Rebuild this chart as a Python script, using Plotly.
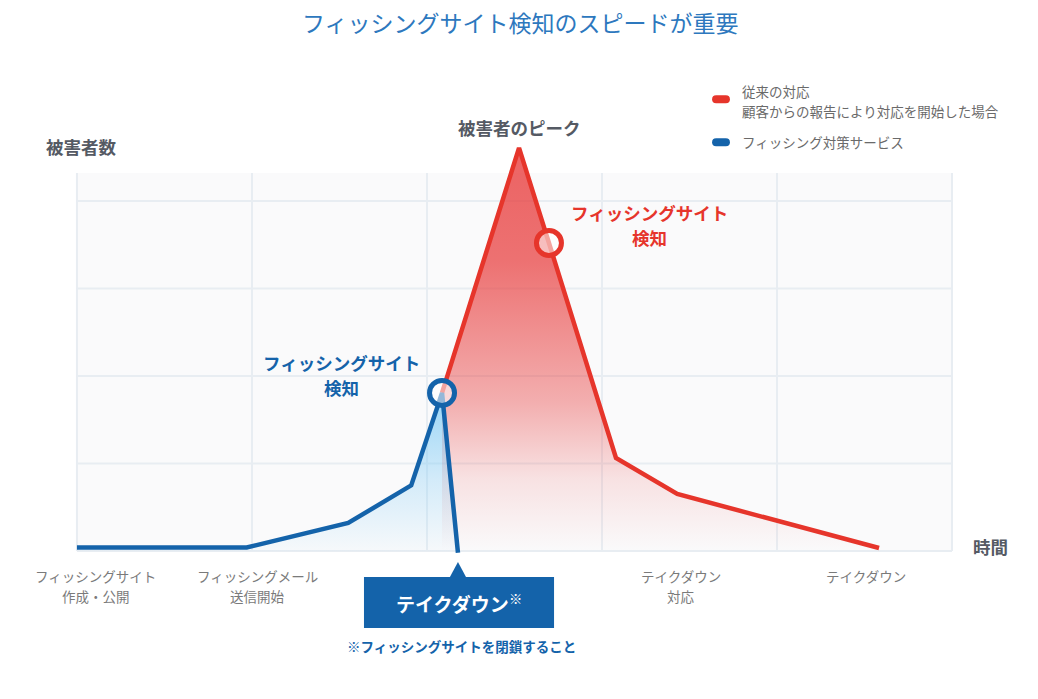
import plotly.graph_objects as go

# time axis: one unit per grid column, value axis: one unit per grid row
blue_x = [0, 0.97, 1.55, 1.91, 2.086, 2.177]
blue_y = [0.04, 0.04, 0.32, 0.75, 1.806, -0.02]

red_x = [2.086, 2.526, 2.697, 3.08, 3.43, 4.583]
red_y = [1.806, 4.606, 3.52, 1.063, 0.651, 0.034]

detect_blue = (2.086, 1.806)
detect_red = (2.697, 3.52)

tick_x = [0.106, 1.034, 3.451, 4.511]
tick_labels = [
    ["フィッシングサイト", "作成・公開"],
    ["フィッシングメール", "送信開始"],
    ["テイクダウン", "対応"],
    ["テイクダウン"],
]

grid_x = [0, 1, 2, 3, 4, 5]
grid_y = [0, 1, 2, 3, 4]
grid_top = 4.32

RED = "#e6352b"
BLUE = "#1463aa"
FONT = "Noto Sans CJK JP"

fig = go.Figure()

fig.add_trace(go.Scatter(
    x=red_x, y=red_y, mode="lines", fill="tozeroy",
    line=dict(color=RED, width=4.5),
    fillgradient=dict(
        type="vertical", start=0, stop=4.606,
        colorscale=[[0, "rgba(232,60,60,0)"], [0.18, "rgba(232,60,60,0.13)"],
                    [0.37, "rgba(232,60,60,0.4)"], [0.72, "rgba(232,60,60,0.72)"],
                    [1, "rgba(232,60,60,0.8)"]]),
    hoverinfo="skip", showlegend=False,
))

fig.add_trace(go.Scatter(
    x=blue_x, y=blue_y, mode="lines", fill="tozeroy",
    line=dict(color=BLUE, width=4.5),
    fillgradient=dict(
        type="vertical", start=0, stop=1.806,
        colorscale=[[0, "rgba(120,200,245,0.03)"], [0.45, "rgba(120,200,245,0.3)"],
                    [1, "rgba(120,200,245,0.75)"]]),
    hoverinfo="skip", showlegend=False,
))

fig.add_trace(go.Scatter(
    x=[detect_blue[0], detect_red[0]], y=[detect_blue[1], detect_red[1]],
    mode="markers",
    marker=dict(size=25, color="rgba(255,255,255,0.55)",
                line=dict(color=[BLUE, RED], width=5)),
    hoverinfo="skip", showlegend=False,
))

shapes = [dict(type="rect", x0=grid_x[0], x1=grid_x[-1], y0=0, y1=grid_top,
               fillcolor="#fafafb", line_width=0, layer="below")]
for gx in grid_x:
    shapes.append(dict(type="line", x0=gx, x1=gx, y0=0, y1=grid_top,
                       line=dict(color="#e8edf2", width=2), layer="below"))
for gy in grid_y:
    shapes.append(dict(type="line", x0=grid_x[0], x1=grid_x[-1], y0=gy, y1=gy,
                       line=dict(color="#e8edf2", width=2), layer="below"))

# takedown callout box + pointer
shapes.append(dict(type="rect", x0=1.64, x1=2.726, y0=-0.88, y1=-0.297,
                   fillcolor=BLUE, line_width=0))
shapes.append(dict(type="path", path="M 2.131,-0.298 L 2.177,-0.126 L 2.223,-0.298 Z",
                   fillcolor=BLUE, line_width=0))


def pill(xc, yc, color):
    x1, x2 = xc - 0.051, xc + 0.051
    rx, ry = 0.023, 0.046
    p = (f"M {x1+rx},{yc-ry} L {x2-rx},{yc-ry} Q {x2},{yc-ry} {x2},{yc} "
         f"Q {x2},{yc+ry} {x2-rx},{yc+ry} L {x1+rx},{yc+ry} Q {x1},{yc+ry} {x1},{yc} "
         f"Q {x1},{yc-ry} {x1+rx},{yc-ry} Z")
    return dict(type="path", path=p, fillcolor=color, line_width=0)


shapes.append(pill(3.68, 5.162, RED))
shapes.append(pill(3.68, 4.671, BLUE))

annotations = []


def label(x, y, lines, size, color, bold=False, anchor="center", spacing=20):
    for i, t in enumerate(lines):
        annotations.append(dict(
            x=x, y=y, xref="x", yref="y", text=f"<b>{t}</b>" if bold else t,
            showarrow=False, xanchor=anchor, yanchor="middle", yshift=-i * spacing,
            font=dict(family=FONT, size=size, color=color)))


# the page body adds an 8px offset, so the title is placed 8px up/left
annotations.append(dict(
    x=512 / 1038, y=1 - 14 / 699, xref="paper", yref="paper",
    text="フィッシングサイト検知のスピードが重要", showarrow=False,
    xanchor="center", yanchor="middle",
    font=dict(family=FONT, size=23, color="#2d78be")))

label(-0.19, 4.62, ["被害者数"], 17.5, "#555a64", bold=True, anchor="left")
label(5.109, 0.046, ["時間"], 17.5, "#555a64", bold=True, anchor="left")
label(2.531, 4.834, ["被害者のピーク"], 17.5, "#555a64", bold=True)
label(3.269, 3.863, ["フィッシングサイト", "検知"], 17.5, RED, bold=True, spacing=25)
label(1.511, 2.149, ["フィッシングサイト", "検知"], 17.5, BLUE, bold=True, spacing=25)

for tx, lines in zip(tick_x, tick_labels):
    label(tx, -0.286, lines, 13.5, "#7a7a7a")

label(3.789, 5.261, ["従来の対応", "顧客からの報告により対応を開始した場合"], 13.5, "#6a6a6a",
      anchor="left")
label(3.789, 4.671, ["フィッシング対策サービス"], 13.5, "#6a6a6a", anchor="left")

label(2.183, -0.594, ["テイクダウン<sup>※</sup>"], 19, "white", bold=True)
label(2.197, -1.086, ["※フィッシングサイトを閉鎖すること"], 13.5, BLUE, bold=True)

fig.update_layout(
    width=1038, height=699,
    margin=dict(l=0, r=0, t=0, b=0),
    paper_bgcolor="white", plot_bgcolor="white",
    xaxis=dict(range=[-0.394, 5.537], visible=False, fixedrange=True),
    yaxis=dict(range=[-1.783, 6.205], visible=False, fixedrange=True),
    shapes=shapes, annotations=annotations,
    font=dict(family=FONT),
)

fig.write_html("out.html")
